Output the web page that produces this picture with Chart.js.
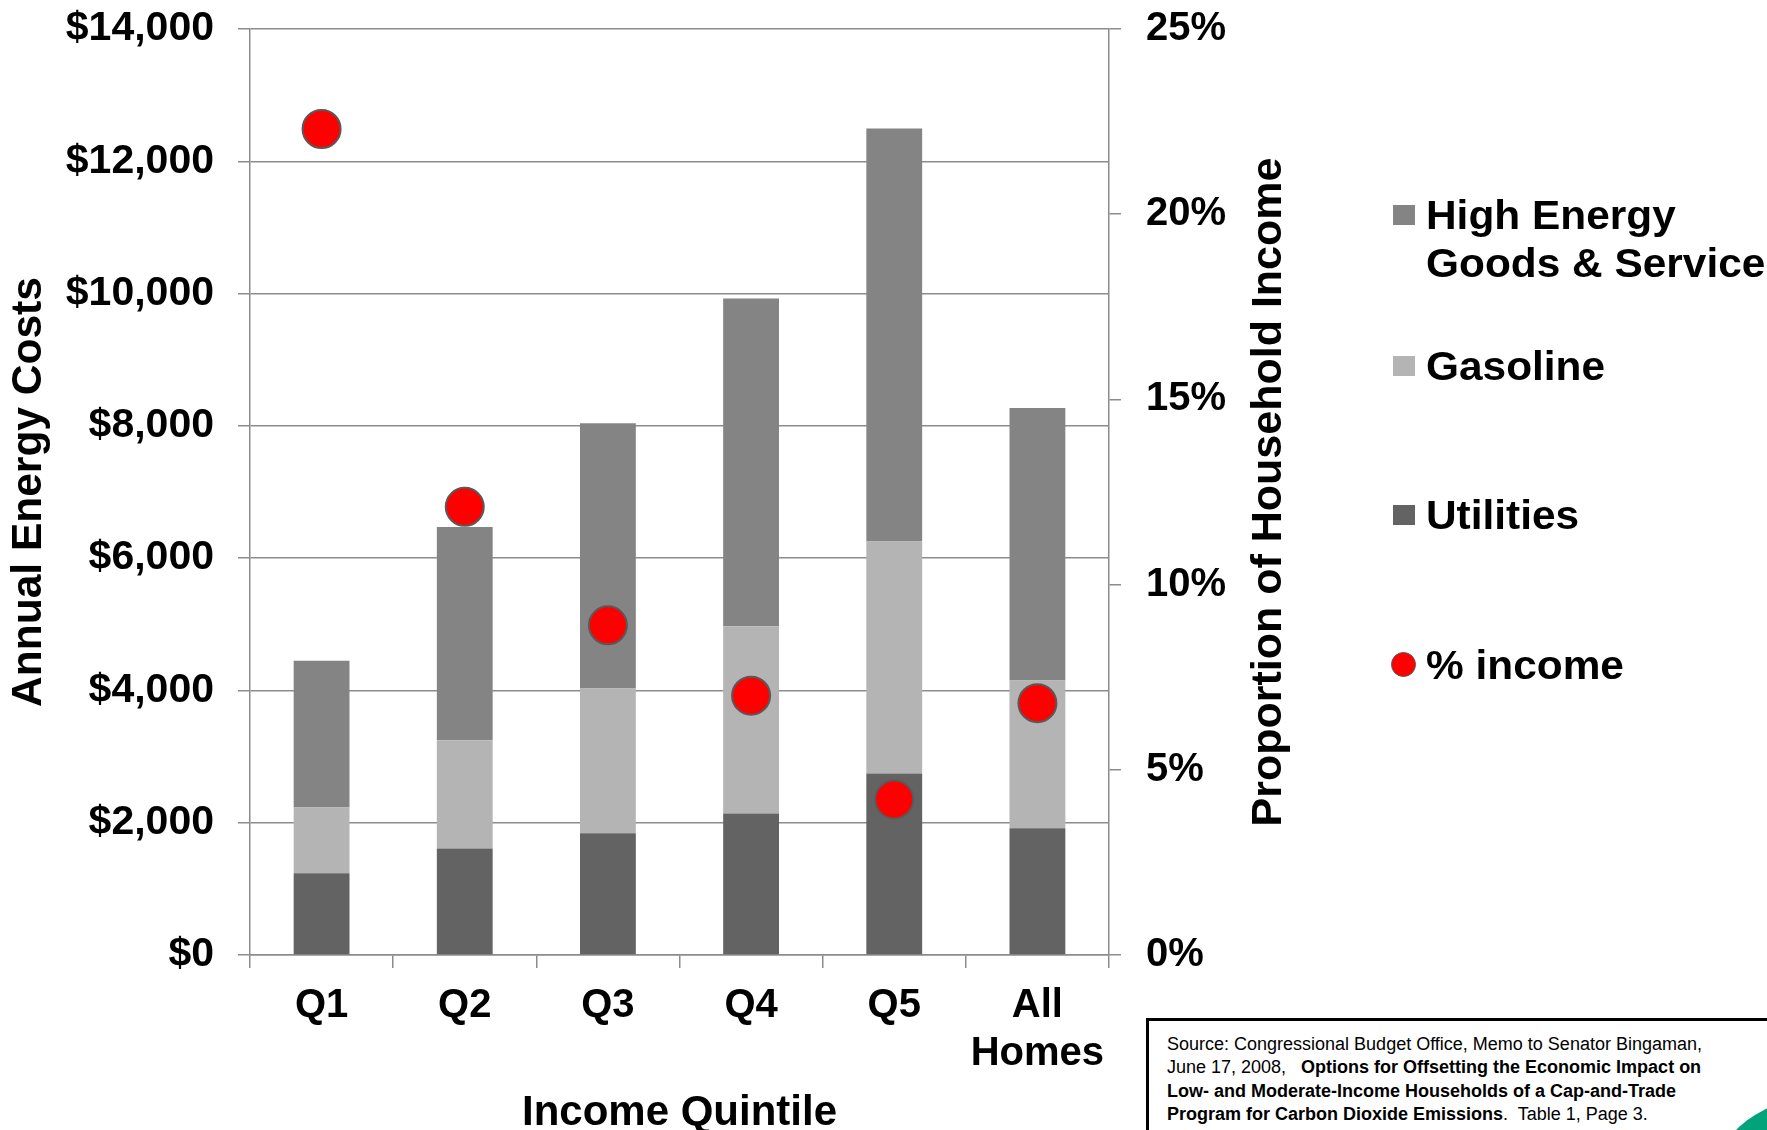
<!DOCTYPE html>
<html>
<head>
<meta charset="utf-8">
<script src="https://cdn.jsdelivr.net/npm/chart.js@4.4.1/dist/chart.umd.min.js"></script>
<style>
  html, body { margin: 0; padding: 0; background: #fff; overflow: hidden; }
  #wrap { position: relative; width: 1767px; height: 1130px; overflow: hidden;
    font-family: 'Liberation Sans', Arial, sans-serif; }
  #chart { position: absolute; left: 0; top: 0; }
  .legend-item { position: absolute; left: 1393px; font-weight: bold; font-size: 40px;
    line-height: 48px; color: #000; white-space: nowrap; }
  .legend-item .swatch { position: absolute; left: 0; top: 14px; width: 22px; height: 20px; }
  .legend-item .dot { position: absolute; left: -2px; top: 11px; width: 23px; height: 23px;
    border-radius: 50%; border: 1.5px solid #595959; }
  .legend-item .txt { position: absolute; left: 33px; top: 0; transform: scaleX(1.06); transform-origin: left top; }
  #source { position: absolute; left: 1146px; top: 1018px; width: 700px; height: 200px;
    border: 3px solid #000; background: #fff; box-sizing: border-box;
    padding: 12px 0 0 18px; font-size: 18px; line-height: 23.3px; color: #000; white-space: nowrap; }
  #swoosh { position: absolute; left: 1712px; top: 1094px; width: 120px; height: 90px;
    background: #00a37a; border-top-left-radius: 100% 100%; }
</style>
</head>
<body>
<div id="wrap">
  <canvas id="chart" width="1767" height="1130"></canvas>
  <div id="legend"></div>
  <div id="source">Source: Congressional Budget Office, Memo to Senator Bingaman,<br>June 17, 2008,&nbsp;&nbsp; <b>Options for Offsetting the Economic Impact on</b><br><b>Low- and Moderate-Income Households of a Cap-and-Trade</b><br><b>Program for Carbon Dioxide Emissions</b>.&nbsp; Table 1, Page 3.<br>Data from Bureau of Labor Statistics, Consumer Expenditure Survey, 2006.</div>
  <div id="swoosh"></div>
</div>
<script>
const categories = ['Q1', 'Q2', 'Q3', 'Q4', 'Q5', ['All', 'Homes']];
const utilities = [1235, 1610, 1840, 2140, 2745, 1915];
const gasoline = [995, 1635, 2190, 2830, 3505, 2235];
const highEnergy = [2220, 3225, 4010, 4955, 6245, 4120];
const pctIncome = [22.3, 12.1, 8.9, 7.0, 4.2, 6.8];
const costTicks = [0, 2000, 4000, 6000, 8000, 10000, 12000, 14000];
const pctTicks = [0, 5, 10, 15, 20, 25];

const FONT = "'Liberation Sans', Arial, sans-serif";
const GRID = '#8c8c8c';

const rightTitle = {
  id: 'rightTitle',
  afterDraw(chart) {
    const s = chart.scales.y1;
    const ctx = chart.ctx;
    ctx.save();
    ctx.translate(s.left + 172, (s.top + s.bottom) / 2);
    ctx.rotate(-Math.PI / 2);
    ctx.font = 'bold 43px ' + FONT;
    ctx.fillStyle = '#000';
    ctx.textAlign = 'center';
    ctx.textBaseline = 'alphabetic';
    ctx.fillText('Proportion of Household Income', 0, 0);
    ctx.restore();
  }
};

const chart = new Chart(document.getElementById('chart'), {
  type: 'bar',
  data: {
    labels: categories,
    datasets: [
      {
        type: 'line',
        label: '% income',
        data: pctIncome,
        yAxisID: 'y1',
        showLine: false,
        pointRadius: 19,
        pointBackgroundColor: '#ff0000',
        pointBorderColor: '#595959',
        pointBorderWidth: 2,
        order: 0
      },
      { label: 'Utilities', data: utilities, backgroundColor: '#636363', order: 1 },
      { label: 'Gasoline', data: gasoline, backgroundColor: '#b4b4b4', order: 1 },
      { label: 'High Energy Goods & Service', data: highEnergy, backgroundColor: '#848484', order: 1 }
    ]
  },
  options: {
    responsive: false,
    animation: false,
    layout: { padding: { top: 29, bottom: 0, left: 0, right: 0 } },
    datasets: { bar: { categoryPercentage: 1, barPercentage: 0.39 } },
    scales: {
      x: {
        stacked: true,
        grid: { drawOnChartArea: false, offset: true, tickLength: 13, color: GRID, lineWidth: 1.5 },
        border: { color: GRID, width: 1.5 },
        ticks: { color: '#000', padding: 14, font: { family: FONT, size: 40, weight: 'bold', lineHeight: 1.2 } },
        title: {
          display: true, text: 'Income Quintile', color: '#000',
          font: { family: FONT, size: 42, weight: 'bold', lineHeight: 1 }, padding: { top: 0, bottom: -4 }
        },
        afterFit: (s) => { s.height = 1130 - 955; }
      },
      y: {
        stacked: true,
        min: 0, max: 14000,
        afterBuildTicks: (s) => { s.ticks = costTicks.map((v) => ({ value: v })); },
        grid: { color: GRID, lineWidth: 1.5, tickLength: 12 },
        border: { color: GRID, width: 1.5 },
        ticks: {
          color: '#000', padding: 24,
          font: { family: FONT, size: 41, weight: 'bold' },
          callback: (v) => '$' + v.toLocaleString('en-US')
        },
        title: {
          display: true, text: 'Annual Energy Costs', color: '#000',
          font: { family: FONT, size: 42.5, weight: 'bold', lineHeight: 1.2 }, padding: { top: 4, bottom: 0 }
        },
        afterFit: (s) => { s.width = 250; s.paddingTop = 0; s.paddingBottom = 0; }
      },
      y1: {
        position: 'right',
        min: 0, max: 25,
        afterBuildTicks: (s) => { s.ticks = pctTicks.map((v) => ({ value: v })); },
        grid: { drawOnChartArea: false, color: GRID, lineWidth: 1.5, tickLength: 12 },
        border: { color: GRID, width: 1.5 },
        ticks: {
          color: '#000', padding: 25,
          font: { family: FONT, size: 40, weight: 'bold' },
          callback: (v) => v + '%'
        },
        afterFit: (s) => { s.width = 1767 - 1109; s.paddingTop = 0; s.paddingBottom = 0; }
      }
    },
    plugins: {
      legend: { display: false },
      tooltip: { enabled: false }
    }
  },
  plugins: [rightTitle]
});

// html legend built from the datasets
const legendOrder = [3, 2, 1, 0];
const legendTops = [191, 342, 491, 641];
const legendEl = document.getElementById('legend');
legendOrder.forEach((di, i) => {
  const ds = chart.data.datasets[di];
  const item = document.createElement('div');
  item.className = 'legend-item';
  item.style.top = legendTops[i] + 'px';
  const mark = document.createElement('span');
  if (ds.type === 'line') {
    mark.className = 'dot';
    mark.style.background = ds.pointBackgroundColor;
  } else {
    mark.className = 'swatch';
    mark.style.background = ds.backgroundColor;
  }
  const txt = document.createElement('span');
  txt.className = 'txt';
  txt.innerHTML = ds.label === 'High Energy Goods & Service' ? 'High Energy<br>Goods &amp; Service' : ds.label;
  item.appendChild(mark);
  item.appendChild(txt);
  legendEl.appendChild(item);
});
</script>
</body>
</html>
